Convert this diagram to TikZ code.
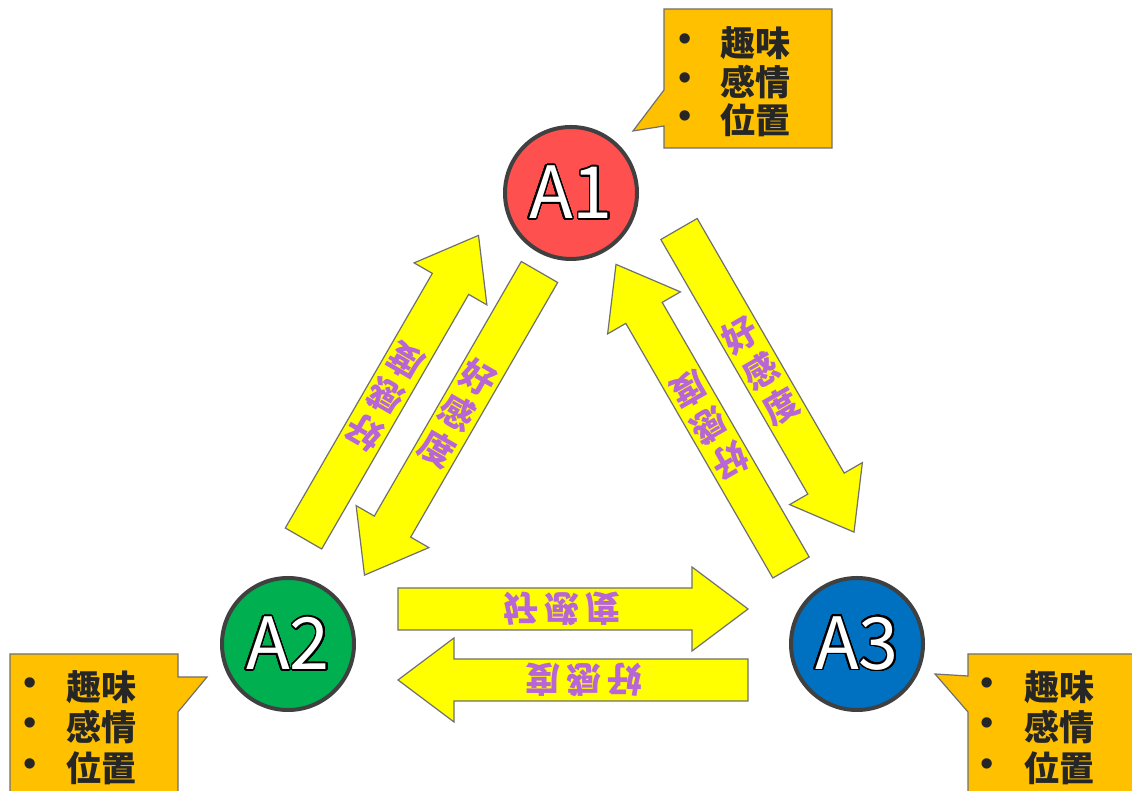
\documentclass[tikz,border=0pt]{standalone}
\usepackage{fontspec}
\usepackage{contour}
\setmainfont{Noto Sans CJK JP}
\newfontfamily\cjk{Noto Sans CJK JP}
\newfontfamily\bulfont{Liberation Sans}
\definecolor{cred}{HTML}{FF5050}
\definecolor{cgreen}{HTML}{00B050}
\definecolor{cblue}{HTML}{0070C0}
\definecolor{circedge}{HTML}{404040}
\definecolor{ayellow}{HTML}{FFFF00}
\definecolor{aedge}{HTML}{707070}
\definecolor{apurple}{HTML}{B865D8}
\definecolor{cofill}{HTML}{FFC000}
\definecolor{coedge}{HTML}{707070}
\definecolor{cotext}{HTML}{262626}
\contourlength{1.6pt}
\contournumber{32}
\tikzset{
  circ/.style={circle, draw=circedge, line width=4pt, minimum size=132pt, inner sep=0pt,
    text=white, font=\cjk\fontsize{72}{72}\selectfont},
  yarrow/.style={fill=ayellow, draw=aedge, line width=1.2pt, line join=miter},
  blockarrow/.pic={\path[yarrow] (0,-21) -- (294,-21) -- (294,-42) -- (350,0) -- (294,42) -- (294,21) -- (0,21) -- cycle;},
  atext/.style={text=apurple, font=\cjk\bfseries\fontsize{35}{41}\selectfont, align=center, inner sep=0pt},
  callout/.style={fill=cofill, draw=coedge, line width=1.2pt, line join=miter},
  ctext/.style={text=cotext, font=\cjk\bfseries\fontsize{35}{39}\selectfont, anchor=west, inner sep=0pt},
  bul/.style={text=cotext, font=\bulfont\fontsize{38}{38}\selectfont, inner sep=0pt}
}
\begin{document}
\begin{tikzpicture}[x=1pt,y=1pt]
\useasboundingbox (0,0) rectangle (1132,791);
\clip (0,0) rectangle (1132,791);
\fill[white] (0,0) rectangle (1132,791);

% callouts
\path[callout] (664,782) -- (832,782) -- (832,643) -- (664,643) -- (664,665) -- (633,660) -- (664,701) -- cycle;
\path[callout] (10,137) -- (178,137) -- (178,114) -- (207,114) -- (178,79) -- (178,-5) -- (10,-5) -- cycle;
\path[callout] (968,137) -- (1140,137) -- (1140,-5) -- (968,-5) -- (968,79) -- (935,117) -- (968,115) -- cycle;

\node[bul] (c1b1) at (685,748) {•};
\node[bul] (c1b2) at (685,709) {•};
\node[bul] (c1b3) at (685,671) {•};
\node[ctext] (c1t1) at (720,748) {趣味};
\node[ctext] (c1t2) at (720,709) {感情};
\node[ctext] (c1t3) at (720,671) {位置};

\node[bul] (c2b1) at (30,104) {•};
\node[bul] (c2b2) at (30,64) {•};
\node[bul] (c2b3) at (30,23) {•};
\node[ctext] (c2t1) at (66,104) {趣味};
\node[ctext] (c2t2) at (66,64) {感情};
\node[ctext] (c2t3) at (66,23) {位置};

\node[bul] (c3b1) at (987,104) {•};
\node[bul] (c3b2) at (987,64) {•};
\node[bul] (c3b3) at (987,23) {•};
\node[ctext] (c3t1) at (1024,104) {趣味};
\node[ctext] (c3t2) at (1024,64) {感情};
\node[ctext] (c3t3) at (1024,23) {位置};

% circles
\node[circ, fill=cred] (A1) at (571,598) {\contour{black}{A1}};
\node[circ, fill=cgreen] (A2) at (288,147) {\contour{black}{A2}};
\node[circ, fill=cblue] (A3) at (857,147) {\contour{black}{A3}};

% block arrows
\pic[rotate=60] at (303.5,252.5) {blockarrow};
\node[atext, rotate=150] (t21) at (385.5,394.5) {好\\感\\度};
\pic[rotate=240] at (539.5,519) {blockarrow};
\node[atext, rotate=-30] (t12) at (457.5,378) {好\\感\\度};
\pic[rotate=300] at (679,562) {blockarrow};
\node[atext, rotate=30] (t13) at (761,420) {好\\感\\度};
\pic[rotate=120] at (791,223.5) {blockarrow};
\node[atext, rotate=210] (t31) at (709,365.5) {好\\感\\度};
\pic at (398,182) {blockarrow};
\node[atext, yscale=-1] (t23) at (562,182) {好\hspace{6pt}感\hspace{6pt}度};
\pic[rotate=180] at (748,111) {blockarrow};
\node[atext, rotate=180] (t32) at (584,111) {好\hspace{6pt}感\hspace{6pt}度};
\end{tikzpicture}
\end{document}
